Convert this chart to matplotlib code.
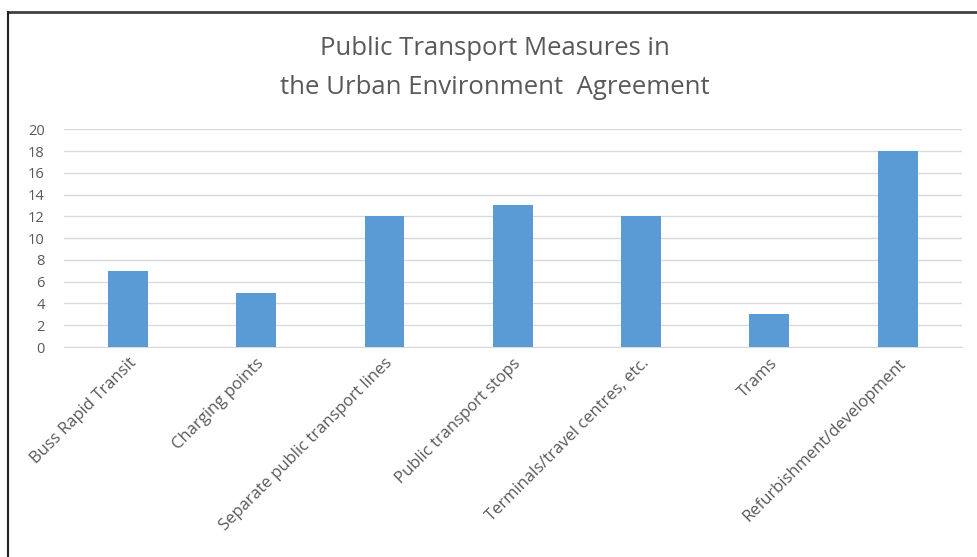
import matplotlib.pyplot as plt
from matplotlib.lines import Line2D

# dades
categories = ["Buss Rapid Transit", "Charging points", "Separate public transport lines",
              "Public transport stops", "Terminals/travel centres, etc.", "Trams",
              "Refurbishment/development"]
valors = [7, 5, 12, 13, 12, 3, 18]
yticks = list(range(0, 21, 2))

plt.rcParams['font.family'] = ['Open Sans', 'DejaVu Sans']

fig = plt.figure(figsize=(9.78, 5.57), dpi=100)
ax = fig.add_axes([0.0654, 0.377, 0.918, 0.391])

ax.bar(range(len(categories)), valors, width=0.31, color='#5B9BD5', zorder=3)

ax.set_xlim(-0.5, len(categories) - 0.5)
ax.set_ylim(0, 20)
ax.set_yticks(yticks)
ax.set_yticklabels([str(v) for v in yticks], fontsize=10.5, color='#595959')
ax.set_xticks(range(len(categories)))
ax.set_xticklabels(categories, rotation=45, ha='right', rotation_mode='anchor',
                   fontsize=12, color='#595959')
ax.tick_params(axis='both', length=0)
ax.tick_params(axis='x', pad=6)
ax.tick_params(axis='y', pad=14)
ax.grid(axis='y', color='#D9D9D9', linewidth=1, zorder=0)
for s in ['top', 'right', 'left']:
    ax.spines[s].set_visible(False)
ax.spines['bottom'].set_color('#D9D9D9')

fig.text(0.506, 0.913, "Public Transport Measures in", ha='center', va='center',
         fontsize=18.5, color='#595959')
fig.text(0.506, 0.843, "the Urban Environment  Agreement", ha='center', va='center',
         fontsize=18.5, color='#595959')

# vora del marc
fig.add_artist(Line2D([0.008, 1.0], [0.978, 0.978], color='#404040', linewidth=2))
fig.add_artist(Line2D([0.008, 0.008], [0.0, 0.978], color='#202020', linewidth=1.5))

plt.savefig('out.png', dpi=100)
